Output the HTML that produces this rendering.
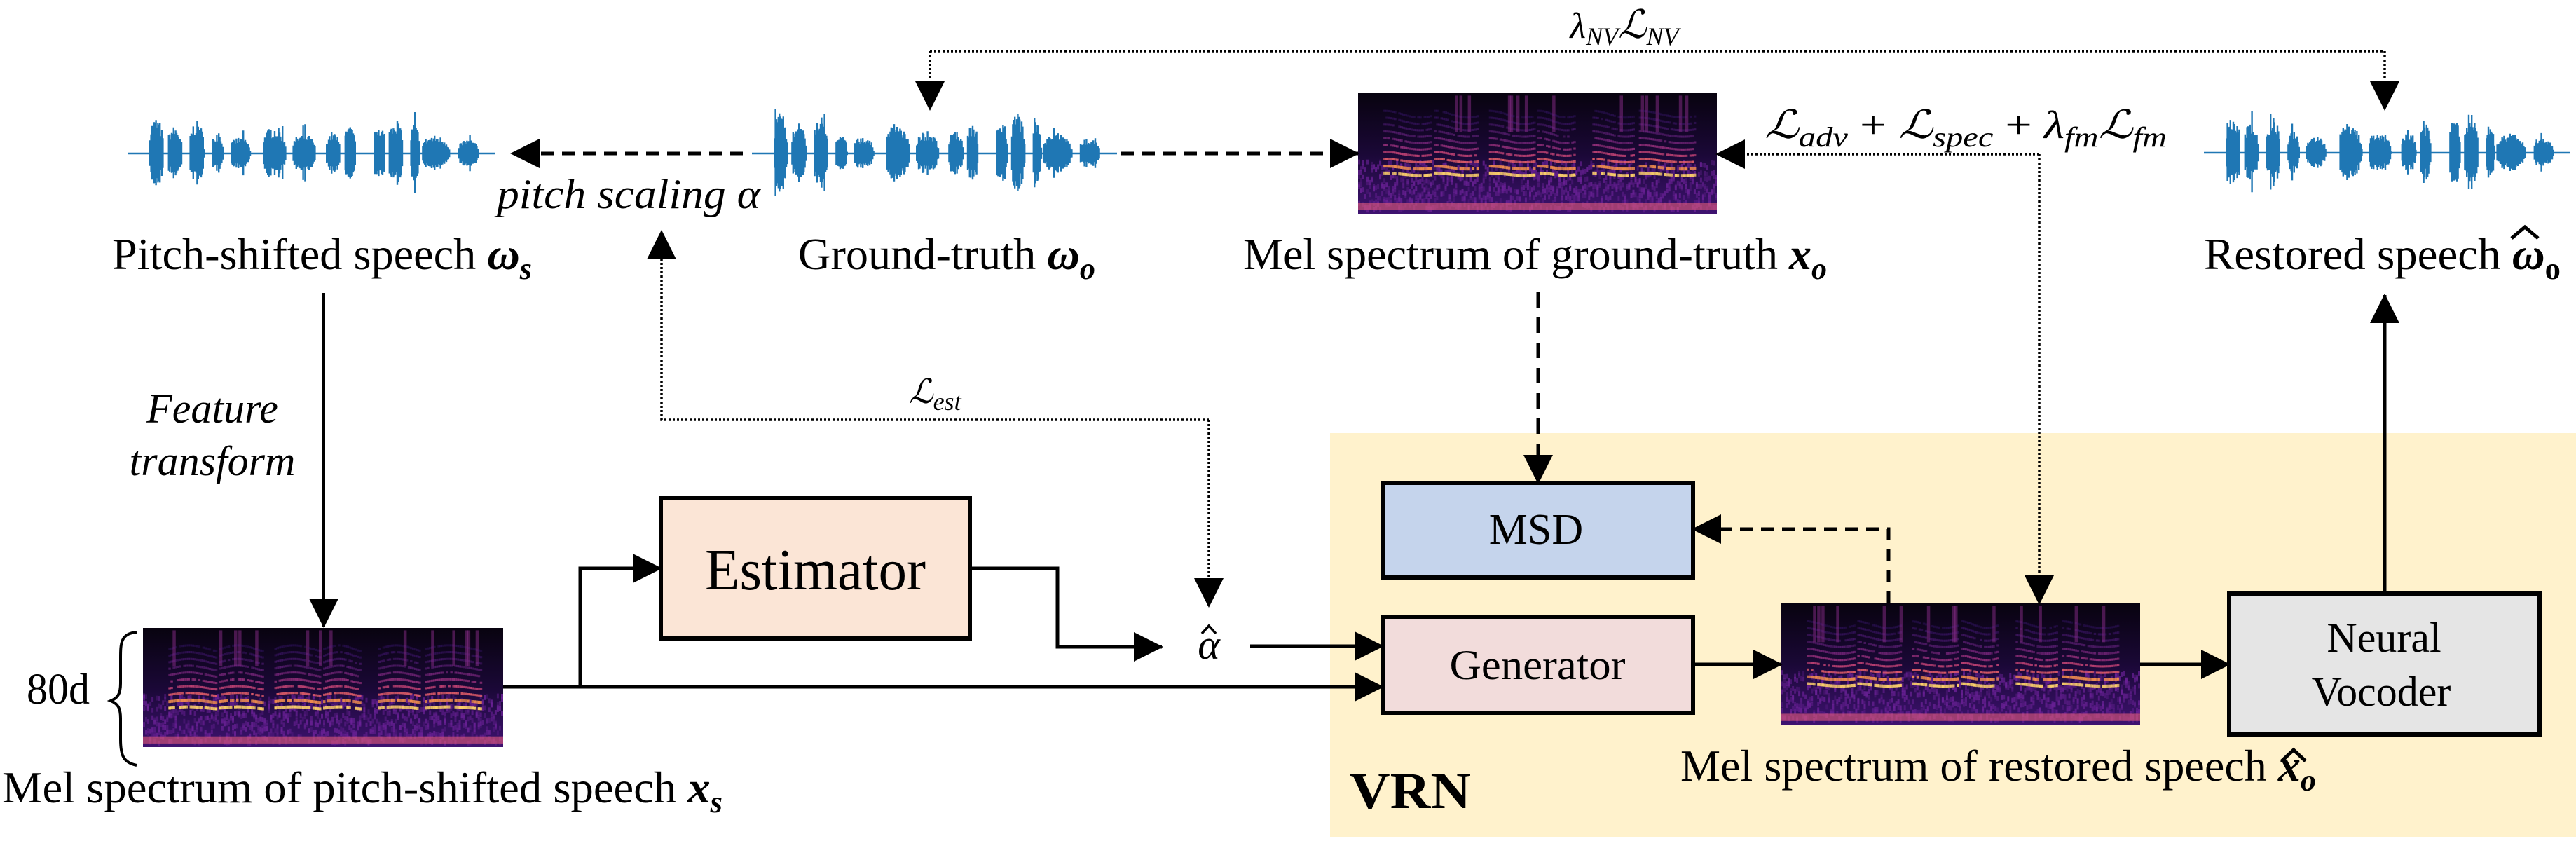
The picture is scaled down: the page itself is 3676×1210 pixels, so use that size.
<!DOCTYPE html>
<html><head><meta charset="utf-8"><style>
html,body{margin:0;padding:0;background:#fff;}
svg{display:block;}
text{font-family:"Liberation Serif","DejaVu Serif",serif;fill:#000;}
</style></head><body>
<svg id="s" xmlns="http://www.w3.org/2000/svg" width="3676" height="1210" viewBox="0 0 3676 1210">
<defs>
<marker id="ah" markerUnits="userSpaceOnUse" markerWidth="42" markerHeight="42" refX="40" refY="21" orient="auto"><path d="M0,0 L42,21 L0,42 z" fill="#000"/></marker>
<linearGradient id="sg" x1="0" y1="0" x2="0" y2="1"><stop offset="0" stop-color="#08030f"/><stop offset="0.5" stop-color="#1a0836"/><stop offset="1" stop-color="#3e1270"/></linearGradient>
</defs>
<rect x="1898" y="618" width="1778" height="577" fill="#fff2cc"/>

<g id="waves" stroke="#1f77b4" stroke-width="2.4" fill="none"></g>
<g id="specs"></g>

<!-- boxes -->
<rect x="943" y="711" width="441" height="200" fill="#fbe5d6" stroke="#000" stroke-width="6"/>
<rect x="1973" y="689" width="443" height="135" fill="#c5d4ec" stroke="#000" stroke-width="6"/>
<rect x="1973" y="880" width="443" height="137" fill="#f2dcdb" stroke="#000" stroke-width="6"/>
<rect x="3181" y="847" width="443" height="201" fill="#e5e5e5" stroke="#000" stroke-width="6"/>

<!-- connectors -->
<g fill="none" stroke="#000">
<path d="M1327,73 H3403" stroke-width="3.5" stroke-dasharray="3 3"/>
<path d="M1327,73 V156" stroke-width="3.5" stroke-dasharray="3 3" marker-end="url(#ah)"/>
<path d="M3403,73 V156" stroke-width="3.5" stroke-dasharray="3 3" marker-end="url(#ah)"/>
<path d="M1060,219 H730" stroke-width="5" stroke-dasharray="18 12" marker-end="url(#ah)"/>
<path d="M1600,219 H1938" stroke-width="5" stroke-dasharray="18 12" marker-end="url(#ah)"/>
<path d="M2910,220 H2450" stroke-width="3.5" stroke-dasharray="3 3" marker-end="url(#ah)"/>
<path d="M2910,220 V861" stroke-width="3.5" stroke-dasharray="3 3" marker-end="url(#ah)"/>
<path d="M462,418 V894" stroke-width="4" marker-end="url(#ah)"/>
<path d="M1725,599 H944 V330" stroke-width="3.5" stroke-dasharray="3 3" marker-end="url(#ah)"/>
<path d="M1725,599 V865" stroke-width="3.5" stroke-dasharray="3 3" marker-end="url(#ah)"/>
<path d="M718,980 H1973" stroke-width="5" marker-end="url(#ah)"/>
<path d="M828,980 V811 H943" stroke-width="5" marker-end="url(#ah)"/>
<path d="M1384,811 H1509 V923 H1658" stroke-width="5" marker-end="url(#ah)"/>
<path d="M1784,922 H1973" stroke-width="5" marker-end="url(#ah)"/>
<path d="M2195,417 V689" stroke-width="5" stroke-dasharray="22 14" marker-end="url(#ah)"/>
<path d="M2695,861 V755 H2416" stroke-width="5" stroke-dasharray="18 12" marker-end="url(#ah)"/>
<path d="M2416,948 H2542" stroke-width="5" marker-end="url(#ah)"/>
<path d="M3054,948 H3181" stroke-width="5" marker-end="url(#ah)"/>
<path d="M3403,845 V421" stroke-width="5" marker-end="url(#ah)"/>
<!-- brace -->
<path d="M195,902 C172,904 172,918 172,940 L172,975 C172,990 168,996 158,1000 C168,1004 172,1010 172,1025 L172,1055 C172,1078 176,1088 195,1092" stroke-width="4"/>
<!-- hats -->
<path d="M1715,904 L1725,893 L1735,904" stroke-width="3.5"/>
<path d="M3584,340 L3603,324 L3622,340" stroke-width="5"/>
<path d="M3256,1086 L3273,1070 L3290,1086" stroke-width="5"/>
</g>

<!-- texts -->
<text x="2318" y="54" font-size="52" text-anchor="middle" font-style="italic">λ<tspan font-size="36" dy="10">NV</tspan><tspan dy="-10" font-size="56">ℒ</tspan><tspan font-size="36" dy="10">NV</tspan></text>
<text x="2518" y="197" font-size="56" font-style="italic" textLength="574" lengthAdjust="spacingAndGlyphs">ℒ<tspan font-size="40" dy="12">adv</tspan><tspan dy="-12" font-style="normal"> + </tspan>ℒ<tspan font-size="40" dy="12">spec</tspan><tspan dy="-12" font-style="normal"> + </tspan>λ<tspan font-size="40" dy="12">fm</tspan><tspan dy="-12">ℒ</tspan><tspan font-size="40" dy="12">fm</tspan></text>
<text x="709" y="297" font-size="60" font-style="italic" textLength="376" lengthAdjust="spacingAndGlyphs">pitch scaling α</text>

<text x="160" y="384" font-size="64" textLength="599" lengthAdjust="spacingAndGlyphs">Pitch-shifted speech <tspan font-weight="bold" font-style="italic">ω</tspan><tspan font-weight="bold" font-style="italic" font-size="44" dy="14">s</tspan></text>
<text x="1139" y="384" font-size="64" textLength="424" lengthAdjust="spacingAndGlyphs">Ground-truth <tspan font-weight="bold" font-style="italic">ω</tspan><tspan font-weight="bold" font-style="italic" font-size="44" dy="14">o</tspan></text>
<text x="1774" y="384" font-size="64" textLength="833" lengthAdjust="spacingAndGlyphs">Mel spectrum of ground-truth <tspan font-weight="bold" font-style="italic">x</tspan><tspan font-weight="bold" font-style="italic" font-size="44" dy="14">o</tspan></text>
<text x="3145" y="384" font-size="64" textLength="509" lengthAdjust="spacingAndGlyphs">Restored speech <tspan font-weight="bold" font-style="italic">ω</tspan><tspan font-weight="bold" font-size="44" dy="14">o</tspan></text>

<text x="303" y="603" font-size="60" font-style="italic" text-anchor="middle">Feature</text>
<text x="303" y="678" font-size="60" font-style="italic" text-anchor="middle">transform</text>
<text x="1297" y="575" font-size="48" font-style="italic">ℒ<tspan font-size="36" dy="10">est</tspan></text>

<text x="1006" y="841" font-size="84" textLength="315" lengthAdjust="spacingAndGlyphs">Estimator</text>
<text x="1725" y="940" font-size="60" font-style="italic" text-anchor="middle">α</text>
<text x="38" y="1004" font-size="62" textLength="90" lengthAdjust="spacingAndGlyphs">80d</text>
<text x="3" y="1145" font-size="64" textLength="1028" lengthAdjust="spacingAndGlyphs">Mel spectrum of pitch-shifted speech <tspan font-weight="bold" font-style="italic">x</tspan><tspan font-weight="bold" font-style="italic" font-size="44" dy="14">s</tspan></text>

<text x="2192" y="776" font-size="62" text-anchor="middle">MSD</text>
<text x="2194" y="969" font-size="60" text-anchor="middle" textLength="251" lengthAdjust="spacingAndGlyphs">Generator</text>
<text x="3402" y="930" font-size="60" text-anchor="middle">Neural</text>
<text x="3398" y="1007" font-size="60" text-anchor="middle">Vocoder</text>
<text x="2398" y="1114" font-size="64" textLength="907" lengthAdjust="spacingAndGlyphs">Mel spectrum of restored speech <tspan font-weight="bold" font-style="italic">x</tspan><tspan font-weight="bold" font-style="italic" font-size="44" dy="14">o</tspan></text>
<text x="1926" y="1153" font-size="74" font-weight="bold" textLength="173" lengthAdjust="spacingAndGlyphs">VRN</text>
</svg>
<script>
(function(){
var NS="http://www.w3.org/2000/svg";
function rnd(seed){var s=seed;return function(){s=(s*16807)%2147483647;return s/2147483647;};}
var bursts=[[.06,.11,1],[.11,.16,.75],[.17,.22,.9],[.23,.27,.6],[.28,.35,.45],[.37,.45,.75],[.45,.53,.55],[.54,.59,.6],[.59,.63,.75],[.67,.71,.85],[.71,.76,1],[.77,.8,.85],[.8,.9,.5],[.9,.97,.4]];
function wave(x0,x1,cy,amp,seed){
  var r=rnd(seed),d="M"+x0+" "+cy+"H"+x1;
  for(var x=x0;x<=x1;x+=1.4){
    var f=(x-x0)/(x1-x0),env=0;
    for(var i=0;i<bursts.length;i++){var b=bursts[i];if(f>=b[0]&&f<=b[1]){var t=(f-b[0])/(b[1]-b[0]);var e=b[2]*Math.pow(Math.sin(Math.PI*Math.min(1,t*1.2+0.08)),0.4);if(e>env)env=e;}}
    if(env<=0)continue;
    var h=amp*env*(0.55+0.45*r());if(r()>0.96)h=Math.min(amp*1.15,h*1.5);
    d+="M"+x.toFixed(1)+" "+(cy-h).toFixed(1)+"V"+(cy+h*0.95).toFixed(1);
  }
  var p=document.createElementNS(NS,"path");p.setAttribute("d",d);document.getElementById("waves").appendChild(p);
}
wave(182,707,219,52,7);
wave(1073,1594,219,58,13);
wave(3145,3668,218,56,29);
var segs=[[.07,.2],[.21,.33],[.36,.49],[.5,.6],[.65,.77],[.78,.94]];
var cols=["#fcd06a","#f5904e","#e8606a","#cc4678","#a83686","#8a2c8a","#702689","#5c2086","#4c1b80","#3e1878"];
var ops=[1,0.95,0.9,0.85,0.75,0.65,0.55,0.5,0.45,0.4];
function spec(x,y,w,h,seed){
  var r=rnd(seed),g=document.getElementById("specs"),out=[];
  out.push('<rect x="'+x+'" y="'+y+'" width="'+w+'" height="'+h+'" fill="url(#sg)"/>');
  var N=170,cw=w/N;
  for(var c=0;c<N;c++){
    var f=c/N,cx=x+c*cw,v=false,segpos=0;
    for(var i=0;i<segs.length;i++){if(f>=segs[i][0]&&f<=segs[i][1]){v=true;segpos=(f-segs[i][0])/(segs[i][1]-segs[i][0]);}}
    for(var k=0;k<6;k++){var ny=y+h*(0.55+0.4*r());out.push('<rect x="'+cx.toFixed(1)+'" y="'+ny.toFixed(1)+'" width="'+cw.toFixed(1)+'" height="'+(h*0.04).toFixed(1)+'" fill="#6a2196" opacity="'+(0.3+0.5*r()).toFixed(2)+'"/>');}
    if(v){
      var wob=Math.sin(segpos*Math.PI*1.3+seed)*h*0.01;
      for(var k=0;k<10;k++){
        var hy=y+h*(0.66-k*0.055)+wob*(1+k*0.2);
        if(r()<0.1)continue;
        out.push('<rect x="'+cx.toFixed(1)+'" y="'+hy.toFixed(1)+'" width="'+(cw+0.5).toFixed(1)+'" height="'+(h*(k<2?0.024:0.018)).toFixed(1)+'" fill="'+cols[k]+'" opacity="'+(ops[k]*(0.75+0.25*r())).toFixed(2)+'"/>');
      }
      if(r()>0.93)out.push('<rect x="'+cx.toFixed(1)+'" y="'+(y+h*0.02).toFixed(1)+'" width="'+(cw*1.5).toFixed(1)+'" height="'+(h*0.3).toFixed(1)+'" fill="#8a2c8a" opacity="0.5"/>');
    }
  }
  out.push('<rect x="'+x+'" y="'+(y+h*0.91).toFixed(1)+'" width="'+w+'" height="'+(h*0.06).toFixed(1)+'" fill="#e25c78" opacity="0.6"/>');
  g.insertAdjacentHTML("beforeend",'<g>'+out.join("")+'</g>');
}
spec(204,896,514,170,3);
spec(1938,133,512,172,11);
spec(2542,861,512,173,5);
})();
</script>
</body></html>
